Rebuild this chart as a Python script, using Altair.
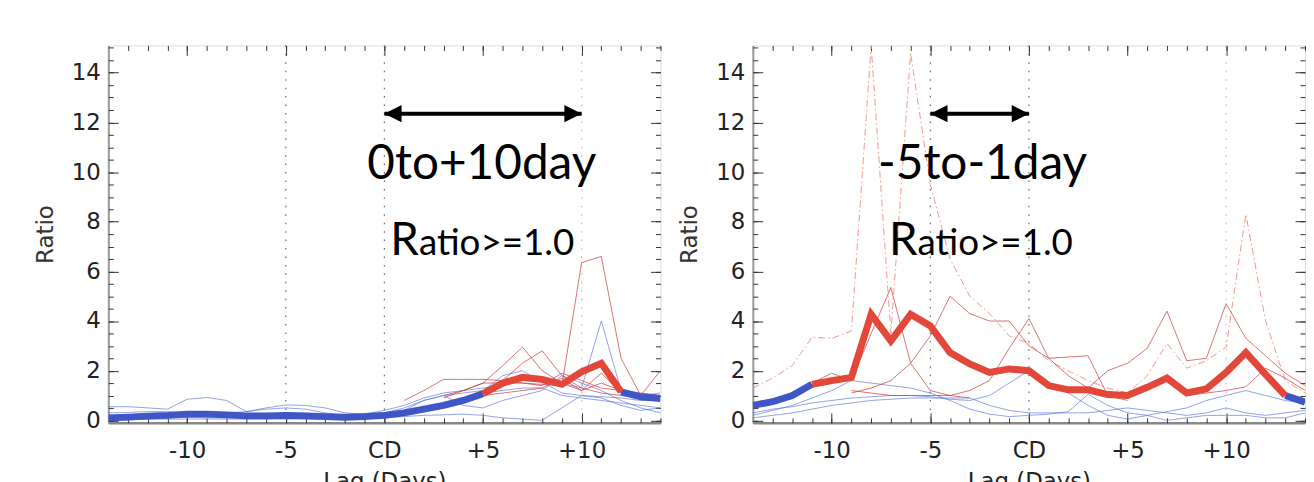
import altair as alt
import pandas as pd

# ---------------- data ----------------
DAYS = list(range(-14, 15))
X_TICKS = [-10, -5, 0, 5, 10]
Y_TICKS = [0, 2, 4, 6, 8, 10, 12, 14]
X_MINOR = list(range(-14, 15))
Y_MINOR = [0, 0.5, 1, 1.5, 2, 2.5, 3, 3.5, 4, 4.5, 5, 5.5, 6, 6.5, 7, 7.5,
           8, 8.5, 9, 9.5, 10, 10.5, 11, 11.5, 12, 12.5, 13, 13.5, 14, 14.5, 15]

# left panel (0 to +10 day)
L_MEAN = [0.10, 0.13, 0.17, 0.20, 0.25, 0.25, 0.22, 0.18, 0.18, 0.20, 0.18, 0.15, 0.12, 0.15,
          0.20, 0.30, 0.45, 0.60, 0.80, 1.07, 1.50, 1.73, 1.65, 1.45, 1.95, 2.30, 1.15, 0.95, 0.88]
L_RED_SPAN = [5, 12]
L_BLUE = {
    "b1": [0.55, 0.55, 0.50, 0.45, 0.85, 0.92, 0.80, 0.35, 0.50, 0.62, 0.60, 0.50, 0.30, 0.25,
           0.40, 0.60, 0.90, 1.10, 1.20, 1.30, 1.40, 1.60, 1.55, 1.10, 1.00, 0.95, 0.90, 0.80, 0.80],
    "b2": [0.10, 0.10, 0.08, 0.10, 0.12, 0.10, 0.10, 0.12, 0.10, 0.08, 0.10, 0.12, 0.15, 0.20,
           0.30, 0.50, 0.80, 1.00, 1.10, 1.20, 1.80, 2.00, 1.50, 1.50, 1.30, 4.00, 1.20, 1.00, 1.10],
    "b3": [0.00, 0.02, 0.05, 0.05, 0.05, 0.05, 0.05, 0.05, 0.05, 0.05, 0.05, 0.05, 0.05, 0.08,
           0.10, 0.15, 0.20, 0.22, 0.25, 0.20, 0.10, 0.05, 0.00, 0.50, 1.00, 0.90, 0.60, 0.40, 0.50],
    "b4": [0.30, 0.32, 0.35, 0.35, 0.30, 0.25, 0.30, 0.35, 0.45, 0.50, 0.45, 0.30, 0.20, 0.15,
           0.15, 0.40, 0.80, 1.00, 0.60, 0.50, 0.80, 1.00, 1.20, 1.80, 1.50, 1.20, 0.80, 0.50, 0.30],
    "b5": [0.20, 0.22, 0.25, 0.25, 0.30, 0.30, 0.28, 0.25, 0.25, 0.30, 0.28, 0.25, 0.25, 0.28,
           0.30, 0.40, 0.50, 0.70, 0.90, 1.10, 1.20, 1.30, 1.30, 1.00, 0.90, 0.80, 0.70, 0.60, 0.50],
}
N = None
L_RED = {
    "r1": [N] * 15 + [0.80, 1.20, 1.65, 1.65, 1.65, 1.60, 1.50, 1.45, 1.40, 6.35, 6.60, 2.50, 1.00, 2.00],
    "r2": [N] * 17 + [0.90, 1.20, 1.50, 2.20, 2.95, 2.00, 1.50, 1.20, 1.50, 1.20, 1.10, 1.00],
    "r3": [N] * 18 + [0.90, 1.20, 1.60, 2.30, 2.80, 1.80, 1.30, 1.10, 1.00, 0.90, 0.90],
    "r4": [N] * 17 + [1.00, 1.20, 1.50, 1.50, 1.50, 1.40, 1.90, 1.60, 1.30, 1.20, 1.00, N],
    "r5": [N] * 19 + [1.00, 1.10, 1.20, 1.30, 1.70, 1.20, 1.90, 1.10, N, N],
}
L_DASH = {}

# right panel (-5 to -1 day)
R_MEAN = [0.60, 0.75, 1.00, 1.45, 1.60, 1.73, 4.27, 3.20, 4.27, 3.80, 2.73, 2.27, 1.93, 2.07,
          2.00, 1.40, 1.23, 1.23, 1.04, 1.00, 1.33, 1.70, 1.10, 1.27, 1.93, 2.73, 1.85, 1.00, 0.73]
R_RED_SPAN = [-11, 13]
R_BLUE = {
    "b1": [0.20, 0.40, 0.60, 0.90, 1.20, 1.60, 1.50, 1.40, 1.30, 1.10, 0.80, 0.45, 0.25, 0.15,
           0.20, 0.25, 0.35, 1.05, 0.60, 0.30, 0.20, 0.00, 0.10, 0.20, 0.20, 0.20, 0.10, 0.10, 0.30],
    "b2": [0.30, 0.45, 0.55, 0.70, 0.80, 0.90, 0.95, 1.00, 1.00, 0.95, 0.85, 0.80, 1.00, 1.50,
           2.00, 1.40, 1.10, 0.60, 0.20, 0.05, 0.20, 0.35, 0.50, 0.80, 1.00, 1.20, 1.00, 0.80, 0.70],
    "b3": [0.10, 0.20, 0.30, 0.45, 0.60, 0.70, 0.80, 0.85, 0.90, 0.90, 0.90, 0.90, 0.60, 0.40,
           0.30, 0.30, 0.30, 0.30, 0.40, 0.50, 0.40, 0.30, 0.20, 0.30, 0.50, 0.30, 0.20, 0.30, 0.40],
}
R_RED = {
    "r1": [N] * 3 + [1.50, 1.90, 1.60, 3.50, 5.35, 2.30, 1.20, 1.00, 0.90] + [N] * 17,
    "r2": [N] * 5 + [1.10, 1.30, 1.60, 2.30, 3.40, 5.00, 4.30, 4.00, 4.00, 3.00, 2.50, 2.55, 2.60,
                     1.00, 0.80] + [N] * 9,
    "r3": [N] * 5 + [1.20, 1.10, 1.00, 1.00, 1.00, 1.00, 1.20, 1.60, 2.90, 4.10, 2.50, 1.80, 1.30,
                     2.00, 2.30, 2.90, 4.40, 2.40, 2.50, 4.70, 3.30, 2.60, 1.90, 1.40],
    "r4": [N] * 22 + [1.00, 1.10, 1.20, 1.35, 2.10, 1.70, 1.20],
}
R_DASH = {
    "d1": [1.30, 1.70, 2.20, 3.35, 3.30, 3.60, 15.10, 3.50, 14.80, 9.50, 6.50, 5.00, 4.30, 3.40,
           3.10, 2.40, 2.00, 1.60, 1.30, 1.10, 1.80, 3.10, 2.10, 2.40, 2.95, 8.30, 4.00, 1.60, 1.10],
}

VLINES_DARK = [-5, 0]
VLINES_LIGHT = [10]

L_ANNOT = {"range": "0to+10day", "range_x": 4.94, "arrow": [0, 10], "r_x": 1.75}
R_ANNOT = {"range": "-5to-1day", "range_x": -2.35, "arrow": [-5, 0], "r_x": -5.65}
ARROW_Y = 12.35
RANGE_Y = 9.73
RATIO_Y = 6.67

# ---------------- helpers ----------------
W, H = 556, 380
XS = alt.Scale(domain=[-14, 14], nice=False, zero=False)
YS = alt.Scale(domain=[-0.1, 15.1], nice=False, zero=False)
TEXT_FONT = "Lato"
AX_FONT = "DejaVu Sans"
BLUE = "#3f57c6"
RED = "#e2473a"


def long_df(series):
    rows = []
    for name, vals in series.items():
        for d, v in zip(DAYS, vals):
            if v is not None:
                rows.append({"day": d, "value": v, "series": name})
    return pd.DataFrame(rows, columns=["day", "value", "series"])


def thick_parts(mean, span):
    blue_rows, red_rows = [], []
    for d, v in zip(DAYS, mean):
        if d <= span[0]:
            blue_rows.append({"day": d, "value": v, "series": "blue1"})
        if span[0] <= d <= span[1]:
            red_rows.append({"day": d, "value": v, "series": "red"})
        if d >= span[1]:
            blue_rows.append({"day": d, "value": v, "series": "blue2"})
    return pd.DataFrame(blue_rows), pd.DataFrame(red_rows)


def xenc(field="day:Q", axis=None):
    return alt.X(field, scale=XS, axis=axis)


def yenc(field="value:Q", axis=None):
    return alt.Y(field, scale=YS, axis=axis)


def lines(df, color, width, opacity=1.0, dash=None):
    kw = dict(color=color, strokeWidth=width, opacity=opacity, clip=True)
    if dash:
        kw["strokeDash"] = dash
    return alt.Chart(df).mark_line(**kw).encode(x=xenc(), y=yenc(), detail="series:N")


AXIS_DF = pd.DataFrame({"day": [DAYS[0]], "value": [0]})


def axis_layer(xa, ya):
    return alt.Chart(AXIS_DF).mark_point(opacity=0).encode(x=xenc(axis=xa), y=yenc(axis=ya))


def vrule(days, color):
    return alt.Chart(pd.DataFrame({"day": days})).mark_rule(
        strokeDash=[1.5, 7], strokeWidth=1.2, color=color).encode(x=xenc())


def panel(mean, span, blue, red, dash, annot):
    layers = [vrule(VLINES_DARK, "#666"), vrule(VLINES_LIGHT, "#bbb")]
    layers.append(lines(long_df(blue), "#5d75dd", 0.9, 0.75))
    if dash:
        layers.append(lines(long_df(dash), "#f08a7c", 1.0, 0.9, [7, 3, 1.5, 3]))
    layers.append(lines(long_df(red), "#cc3a3a", 0.9, 0.8))
    bdf, rdf = thick_parts(mean, span)
    layers.append(lines(bdf, BLUE, 7))
    layers.append(lines(rdf, RED, 7))
    # arrow
    adf = pd.DataFrame({"day": annot["arrow"], "value": [ARROW_Y, ARROW_Y]})
    layers.append(alt.Chart(adf).mark_line(color="black", strokeWidth=4).encode(x=xenc(), y=yenc()))
    layers.append(
        alt.Chart(adf.iloc[[0]]).mark_point(shape="M0,0L2,-1L2,1Z", filled=True, size=300, color="black", opacity=1)
        .encode(x=xenc(), y=yenc())
    )
    layers.append(
        alt.Chart(adf.iloc[[1]]).mark_point(shape="M0,0L-2,-1L-2,1Z", filled=True, size=300, color="black", opacity=1)
        .encode(x=xenc(), y=yenc())
    )
    # texts
    t1 = pd.DataFrame({"day": [annot["range_x"]], "value": [RANGE_Y], "t": [annot["range"]]})
    layers.append(
        alt.Chart(t1).mark_text(font=TEXT_FONT, fontSize=48, baseline="alphabetic", align="center", color="black")
        .encode(x=xenc(), y=yenc(), text="t:N")
    )
    t2 = pd.DataFrame({"day": [annot["r_x"]], "value": [RATIO_Y], "t": ["R"]})
    layers.append(
        alt.Chart(t2).mark_text(font=TEXT_FONT, fontSize=46, baseline="alphabetic", align="right", color="black")
        .encode(x=xenc(), y=yenc(), text="t:N")
    )
    t3 = pd.DataFrame({"day": [annot["r_x"]], "value": [RATIO_Y], "t": ["atio>=1.0"]})
    layers.append(
        alt.Chart(t3).mark_text(font=TEXT_FONT, fontSize=37, baseline="alphabetic", align="left", color="black")
        .encode(x=xenc(), y=yenc(), text="t:N")
    )
    # axes: labels outside
    xa_lab = alt.Axis(orient="bottom", values=X_TICKS, ticks=False, grid=False, domain=True,
                      domainColor="#888", domainWidth=2.5,
                      labelExpr="datum.value == 0 ? 'CD' : (datum.value > 0 ? '+' + datum.value : '' + datum.value)",
                      labelFont=AX_FONT, labelFontSize=23, labelColor="#222", labelPadding=17,
                      title="Lag (Days)", titleFont=AX_FONT, titleFontSize=23, titleFontWeight="normal",
                      titleColor="#222", titlePadding=8)
    ya_lab = alt.Axis(orient="left", values=Y_TICKS, ticks=False, grid=False, domain=True,
                      domainColor="#999", domainWidth=2,
                      labelFont=AX_FONT, labelFontSize=23, labelColor="#222", labelPadding=8,
                      title="Ratio", titleFont=AX_FONT, titleFontSize=23, titleFontWeight="normal",
                      titleColor="#333", titlePadding=14)
    layers.append(axis_layer(xa_lab, ya_lab))

    def tick_axis(orient, offset, values, size):
        return alt.Axis(orient=orient, offset=offset, values=values, labels=False, domain=False, grid=False,
                        ticks=True, tickSize=size, tickColor="#333", tickWidth=1, title=None)

    # inward ticks on bottom edge & left edge
    layers.append(axis_layer(tick_axis("top", -H, X_TICKS, 10), tick_axis("right", -W, Y_TICKS, 10)))
    layers.append(axis_layer(tick_axis("top", -H, X_MINOR, 5), tick_axis("right", -W, Y_MINOR, 5)))
    # inward ticks on top edge & right edge
    layers.append(axis_layer(tick_axis("bottom", -H, X_TICKS, 10), tick_axis("left", -W, Y_TICKS, 10)))
    layers.append(axis_layer(tick_axis("bottom", -H, X_MINOR, 5), tick_axis("left", -W, Y_MINOR, 5)))

    return alt.layer(*layers).resolve_axis(x="independent", y="independent").properties(width=W, height=H)


left = panel(L_MEAN, L_RED_SPAN, L_BLUE, L_RED, L_DASH, L_ANNOT)
right = panel(R_MEAN, R_RED_SPAN, R_BLUE, R_RED, R_DASH, R_ANNOT)

chart = (
    alt.hconcat(left, right, spacing=17)
    .properties(padding={"left": 26, "top": 34, "right": 0, "bottom": 0})
    .configure_view(stroke="#222", strokeWidth=1.3)
    .configure(background="white")
)

chart.save("out.html", embed_options={"renderer": "svg", "actions": False})
